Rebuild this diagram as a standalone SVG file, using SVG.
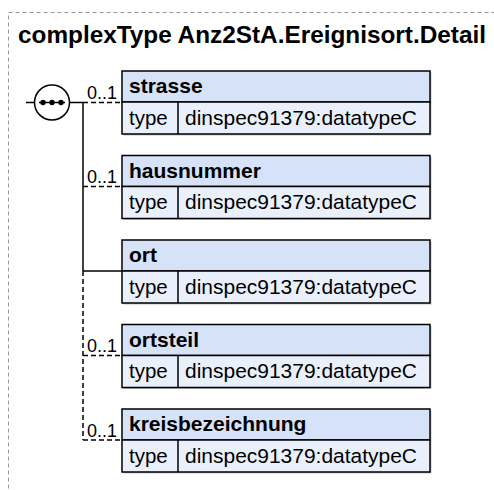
<svg xmlns="http://www.w3.org/2000/svg" width="494" height="490" viewBox="0 0 494 490">
<style>
.frame{fill:none;stroke:#999;stroke-width:1;stroke-dasharray:4,3}
.title{font-family:"Liberation Sans",Arial,sans-serif;font-weight:bold;font-size:24px;fill:#000}
.hdr{fill:#d6e2f8;stroke:#000;stroke-width:1.5}
.row{fill:#eaf0fb;stroke:#000;stroke-width:1.5}
.shadow{fill:#c4c4c4}
.name{font-family:"Liberation Sans",Arial,sans-serif;font-weight:bold;font-size:21px;fill:#000}
.txt{font-family:"Liberation Sans",Arial,sans-serif;font-size:20.5px;fill:#000}
.card{font-family:"Liberation Sans",Arial,sans-serif;font-size:18px;fill:#000}
.solid{fill:none;stroke:#000;stroke-width:1.5}
.dash{fill:none;stroke:#000;stroke-width:1.5;stroke-dasharray:5,3}
</style>
<rect class="frame" x="8.5" y="12.5" width="700" height="700"/>
<text class="title" x="18" y="43" textLength="468" lengthAdjust="spacingAndGlyphs">complexType Anz2StA.Ereignisort.Detail</text>
<g id="connectors">
<line class="solid" x1="26" y1="102.5" x2="34.5" y2="102.5"/>
<line class="solid" x1="69.5" y1="102.5" x2="83" y2="102.5"/>
<line class="solid" x1="83" y1="102.5" x2="83" y2="271"/>
<line class="dash" x1="83" y1="271" x2="83" y2="440"/>
<line class="dash" x1="83" y1="102.5" x2="122" y2="102.5"/>
<line class="dash" x1="83" y1="186.5" x2="122" y2="186.5"/>
<line class="solid" x1="83" y1="271" x2="122" y2="271"/>
<line class="dash" x1="83" y1="355.5" x2="122" y2="355.5"/>
<line class="dash" x1="83" y1="440" x2="122" y2="440"/>
<text class="card" x="87" y="99">0..1</text>
<text class="card" x="87" y="183">0..1</text>
<text class="card" x="87" y="352">0..1</text>
<text class="card" x="87" y="436.5">0..1</text>
</g>
<g id="sequence">
<circle cx="52" cy="102.5" r="17.5" fill="#fff" stroke="#000" stroke-width="1.5"/>
<line x1="39" y1="102.5" x2="65" y2="102.5" stroke="#000" stroke-width="1.5"/>
<circle cx="43" cy="102.5" r="2.7" fill="#000"/>
<circle cx="52" cy="102.5" r="2.7" fill="#000"/>
<circle cx="61" cy="102.5" r="2.7" fill="#000"/>
</g>
<g id="strasse" transform="translate(0,71)">
<rect class="shadow" x="123.5" y="1.5" width="308" height="63"/>
<rect class="hdr" x="122" y="0" width="308" height="31"/>
<rect class="row" x="122" y="31" width="308" height="32"/>
<line class="solid" x1="178" y1="31" x2="178" y2="63"/>
<text class="name" x="129" y="22">strasse</text>
<text class="txt" x="129" y="53.5">type</text>
<text class="txt" x="185" y="53.5" textLength="232" lengthAdjust="spacingAndGlyphs">dinspec91379:datatypeC</text>
</g>
<g id="hausnummer" transform="translate(0,155.5)">
<rect class="shadow" x="123.5" y="1.5" width="308" height="63"/>
<rect class="hdr" x="122" y="0" width="308" height="31"/>
<rect class="row" x="122" y="31" width="308" height="32"/>
<line class="solid" x1="178" y1="31" x2="178" y2="63"/>
<text class="name" x="129" y="22">hausnummer</text>
<text class="txt" x="129" y="53.5">type</text>
<text class="txt" x="185" y="53.5" textLength="232" lengthAdjust="spacingAndGlyphs">dinspec91379:datatypeC</text>
</g>
<g id="ort" transform="translate(0,240)">
<rect class="shadow" x="123.5" y="1.5" width="308" height="63"/>
<rect class="hdr" x="122" y="0" width="308" height="31"/>
<rect class="row" x="122" y="31" width="308" height="32"/>
<line class="solid" x1="178" y1="31" x2="178" y2="63"/>
<text class="name" x="129" y="22">ort</text>
<text class="txt" x="129" y="53.5">type</text>
<text class="txt" x="185" y="53.5" textLength="232" lengthAdjust="spacingAndGlyphs">dinspec91379:datatypeC</text>
</g>
<g id="ortsteil" transform="translate(0,324.5)">
<rect class="shadow" x="123.5" y="1.5" width="308" height="63"/>
<rect class="hdr" x="122" y="0" width="308" height="31"/>
<rect class="row" x="122" y="31" width="308" height="32"/>
<line class="solid" x1="178" y1="31" x2="178" y2="63"/>
<text class="name" x="129" y="22">ortsteil</text>
<text class="txt" x="129" y="53.5">type</text>
<text class="txt" x="185" y="53.5" textLength="232" lengthAdjust="spacingAndGlyphs">dinspec91379:datatypeC</text>
</g>
<g id="kreisbezeichnung" transform="translate(0,409)">
<rect class="shadow" x="123.5" y="1.5" width="308" height="63"/>
<rect class="hdr" x="122" y="0" width="308" height="31"/>
<rect class="row" x="122" y="31" width="308" height="32"/>
<line class="solid" x1="178" y1="31" x2="178" y2="63"/>
<text class="name" x="129" y="22">kreisbezeichnung</text>
<text class="txt" x="129" y="53.5">type</text>
<text class="txt" x="185" y="53.5" textLength="232" lengthAdjust="spacingAndGlyphs">dinspec91379:datatypeC</text>
</g>
</svg>
